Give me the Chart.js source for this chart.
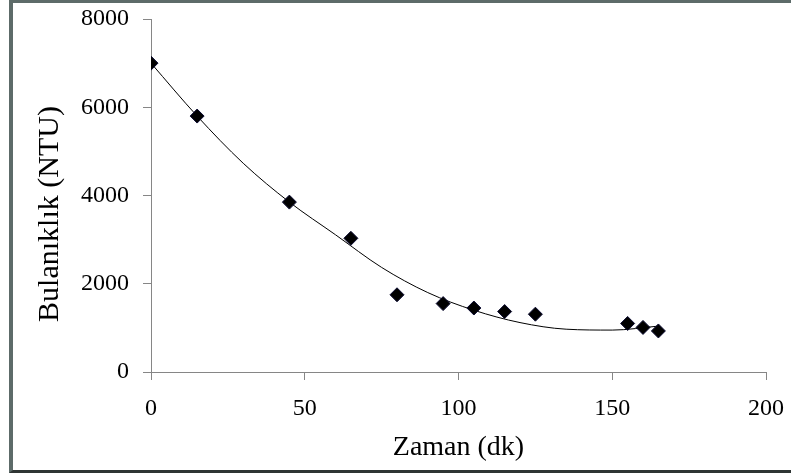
<!DOCTYPE html>
<html>
<head>
<meta charset="utf-8">
<script src="https://cdn.jsdelivr.net/npm/chart.js@4/dist/chart.umd.min.js"></script>
<style>
  html, body { margin: 0; padding: 0; background: #fff; }
  #wrap { position: relative; width: 791px; height: 473px; overflow: hidden; }
  #frame {
    position: absolute; left: 9px; top: 0; width: 800px; height: 467px;
    border-left: 4px solid #5d6b69; border-top: 3px solid #5d6b69; border-bottom: 3px solid #2f3534;
    pointer-events: none;
  }
  canvas { position: absolute; left: 0; top: 0; }
</style>
</head>
<body>
<div id="wrap">
  <canvas id="chart" width="791" height="473"></canvas>
  <div id="frame"></div>
</div>
<script>
// measured points
var zaman = [0, 15, 45, 65, 80, 95, 105, 115, 125, 155, 160, 165];
var bulaniklik = [7000, 5800, 3850, 3030, 1750, 1550, 1450, 1370, 1310, 1100, 1010, 930];

// trendline
var trendX = [0, 15, 30, 45, 60, 75, 90, 105, 120, 135, 150, 165];
var trendY = [7000, 5800, 4730, 3850, 3110, 2370, 1800, 1400, 1120, 970, 950, 1040];

var xTicks = [0, 50, 100, 150, 200];
var yTicks = [0, 2000, 4000, 6000, 8000];

var xTitle = 'Zaman (dk)';
var yTitle = 'Bulanıklık (NTU)';

(function () {
    var serif = "'Liberation Serif', 'Times New Roman', serif";
    var axisGrey = '#868686';

    var points = zaman.map(function (x, i) { return { x: x, y: bulaniklik[i] }; });
    var trend = trendX.map(function (x, i) { return { x: x, y: trendY[i] }; });

    // y title drawn by hand, Excel puts it a bit below the plot centre
    var yTitlePlugin = {
        id: 'yTitle',
        afterDraw: function (chart) {
            var ctx = chart.ctx;
            ctx.save();
            ctx.translate(50, 214);
            ctx.rotate(-Math.PI / 2);
            ctx.font = '30px ' + serif;
            ctx.fillStyle = '#000';
            ctx.textAlign = 'center';
            ctx.textBaseline = 'middle';
            ctx.fillText(yTitle, 0, 0);
            ctx.restore();
        }
    };

    var plain = function (v) { return String(v); };
    var noOverflow = function (axis) {
        axis.paddingTop = 0;
        axis.paddingBottom = 0;
        axis.paddingLeft = 0;
        axis.paddingRight = 0;
    };

    var context = document.getElementById('chart').getContext('2d');

    var chart = new Chart(context, {
        type: 'scatter',
        data: {
            datasets: [
                {
                    label: 'Bulanıklık',
                    data: points,
                    pointStyle: 'rectRot',
                    pointRadius: 7,
                    pointBackgroundColor: '#000',
                    pointBorderColor: '#0a0a30',
                    pointBorderWidth: 1,
                    showLine: false,
                    order: 1
                },
                {
                    label: 'Trend',
                    data: trend,
                    showLine: true,
                    borderColor: '#000',
                    borderWidth: 1,
                    cubicInterpolationMode: 'monotone',
                    pointRadius: 0,
                    order: 2
                }
            ]
        },
        options: {
            responsive: false,
            animation: false,
            layout: { padding: { left: 33, right: 25, top: 19, bottom: 9 } },
            plugins: {
                legend: { display: false },
                tooltip: { enabled: false }
            },
            scales: {
                x: {
                    type: 'linear',
                    min: 0,
                    max: 200,
                    afterBuildTicks: function (axis) {
                        axis.ticks = xTicks.map(function (v) { return { value: v }; });
                    },
                    afterFit: function (axis) { axis.height = 92; noOverflow(axis); },
                    grid: { drawOnChartArea: false, drawTicks: true, tickLength: 8, color: axisGrey },
                    border: { color: axisGrey, width: 1 },
                    ticks: { font: { family: serif, size: 24 }, color: '#000', padding: 14, maxRotation: 0, callback: plain },
                    title: {
                        display: true,
                        text: xTitle,
                        font: { family: serif, size: 28 },
                        color: '#000',
                        padding: { top: 0, bottom: 0 }
                    }
                },
                y: {
                    type: 'linear',
                    min: 0,
                    max: 8000,
                    afterBuildTicks: function (axis) {
                        axis.ticks = yTicks.map(function (v) { return { value: v }; });
                    },
                    afterFit: function (axis) { axis.width = 118; noOverflow(axis); },
                    grid: { drawOnChartArea: false, drawTicks: true, tickLength: 8, color: axisGrey },
                    border: { color: axisGrey, width: 1 },
                    ticks: { font: { family: serif, size: 24 }, color: '#000', padding: 14, callback: plain }
                }
            }
        },
        plugins: [yTitlePlugin]
    });
}());
</script>
</body>
</html>
